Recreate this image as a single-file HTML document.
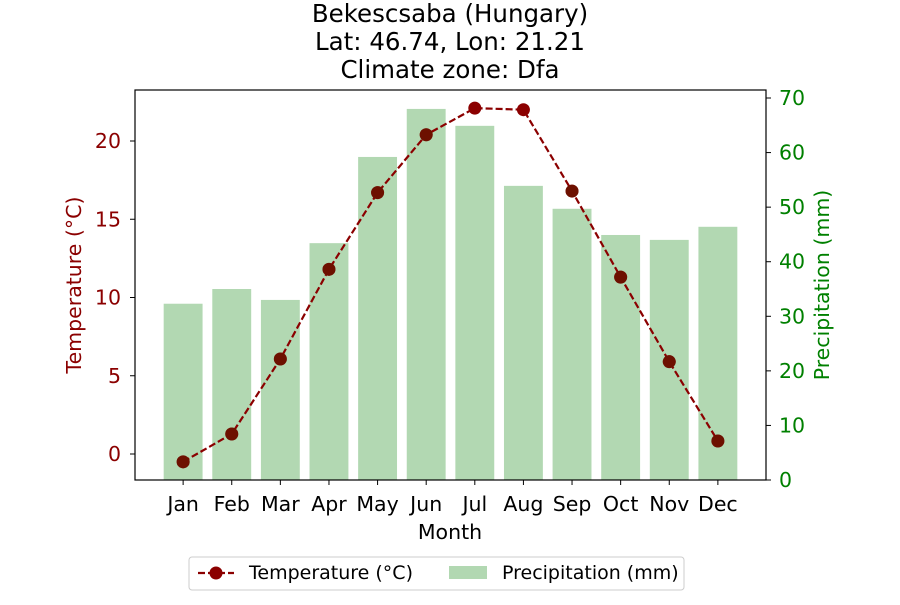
<!DOCTYPE html>
<html><head><meta charset="utf-8">
<style>
body{margin:0;background:#fff;font-family:"Liberation Sans","DejaVu Sans",sans-serif;}
svg text{font-family:"DejaVu Sans","Liberation Sans",sans-serif;}
</style></head>
<body>
<svg id="chart" width="900" height="600" xmlns="http://www.w3.org/2000/svg">
<g id="bars"></g>
<g id="line"></g>
<rect x="135" y="90" width="631" height="390" fill="none" stroke="#000" stroke-width="1.2"/>
<g id="axes"></g>
<text x="450" y="22" text-anchor="middle" font-size="24.5">Bekescsaba (Hungary)</text>
<text x="450" y="50" text-anchor="middle" font-size="24.5">Lat: 46.74, Lon: 21.21</text>
<text x="450" y="78" text-anchor="middle" font-size="24.5">Climate zone: Dfa</text>
<text x="450" y="539" text-anchor="middle" font-size="20.5">Month</text>
<text transform="translate(81,285) rotate(-90)" text-anchor="middle" font-size="20.5" fill="#8b0000">Temperature (°C)</text>
<text transform="translate(829,285) rotate(-90)" text-anchor="middle" font-size="20.5" fill="#008000">Precipitation (mm)</text>
<g>
<rect x="189" y="557" width="495" height="33" rx="3" fill="#fff" stroke="#ccc"/>
<line x1="198" y1="573" x2="234" y2="573" stroke="#8b0000" stroke-width="2.2" stroke-dasharray="7,3"/>
<circle cx="216" cy="573" r="6.5" fill="#8b0000"/>
<text x="249" y="579" font-size="19">Temperature (°C)</text>
<rect x="449" y="566" width="38" height="13" fill="#b2d8b2"/>
<text x="502" y="579" font-size="19">Precipitation (mm)</text>
</g>
</svg>
<script>
const months=["Jan","Feb","Mar","Apr","May","Jun","Jul","Aug","Sep","Oct","Nov","Dec"];
const temps=[-0.5,1.28,6.07,11.8,16.7,20.4,22.1,22.0,16.8,11.3,5.9,0.83];
const precip=[32.3,35.0,33.0,43.4,59.2,68.0,64.9,53.9,49.7,44.9,44.0,46.4];
const tempTicks=[0,5,10,15,20];
const precipTicks=[0,10,20,30,40,50,60,70];
const NS="http://www.w3.org/2000/svg";
const X0=135,X1=766,Y0=90,Y1=480;
const xs=i=>X0+(i+0.99)/12.98*(X1-X0);
const yT=v=>454-(v)*15.65;
const yP=v=>480-v*5.457;
function mk(tag,attrs,parent){const e=document.createElementNS(NS,tag);for(const k in attrs)e.setAttribute(k,attrs[k]);parent.appendChild(e);return e;}
const bars=document.getElementById('bars'),line=document.getElementById('line'),axes=document.getElementById('axes');
const bw=0.8*(X1-X0)/12.98;
precip.forEach((p,i)=>{const r=mk('rect',{x:xs(i)-bw/2,y:yP(p),width:bw,height:yP(0)-yP(p),fill:'#b2d8b2'},bars);

});
const pl=mk('polyline',{points:temps.map((t,i)=>xs(i)+','+yT(t)).join(' '),fill:'none',stroke:'#8b0000','stroke-width':2.2,'stroke-dasharray':'7,3'},line);


temps.forEach((t,i)=>{const c=mk('circle',{cx:xs(i),cy:yT(t),r:6.5,fill:'#8b0000'},line);


const c2=mk('circle',{cx:xs(i),cy:yT(t),r:6.5,fill:'#5a1a00','fill-opacity':(i===6||i===7)?0:0.6},line);

});
months.forEach((m,i)=>{mk('line',{x1:xs(i),x2:xs(i),y1:Y1,y2:Y1+5,stroke:'#000'},axes);
const t=mk('text',{x:xs(i),y:Y1+31,'text-anchor':'middle','font-size':20.5},axes);t.textContent=m;

});
tempTicks.forEach(v=>{mk('line',{x1:X0-5,x2:X0,y1:yT(v),y2:yT(v),stroke:'#000'},axes);
const t=mk('text',{x:X0-14,y:yT(v)+7,'text-anchor':'end','font-size':20.5,fill:'#8b0000'},axes);t.textContent=v;

});
precipTicks.forEach(v=>{mk('line',{x1:X1,x2:X1+5,y1:yP(v),y2:yP(v),stroke:'#000'},axes);
const t=mk('text',{x:X1+13,y:yP(v)+7,'text-anchor':'start','font-size':20.5,fill:'#008000'},axes);t.textContent=v;

});
</script>
</body></html>
